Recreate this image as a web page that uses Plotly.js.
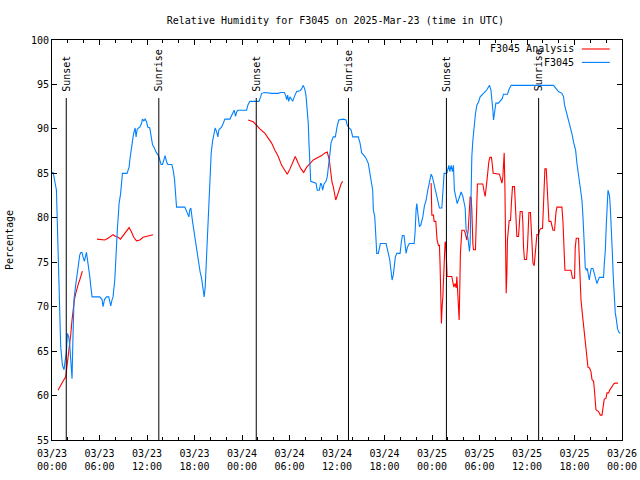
<!DOCTYPE html>
<html>
<head>
<meta charset="utf-8">
<script src="https://cdn.plot.ly/plotly-3.0.1.min.js"></script>
<style>html,body{margin:0;padding:0;background:#fff}#chart{width:640px;height:480px}</style>
</head>
<body>
<div id="chart"></div>
<script>
// ---- Data (hours after 2025-03-23 00:00 UTC, relative humidity %) ----
var observedHours = [0,0.15,0.56,0.68,0.85,0.97,1.10,1.32,1.52,1.64,1.82,1.95,2.11,2.24,2.36,2.53,2.66,2.78,2.96,3.09,3.21,3.38,3.50,3.63,3.79,3.92,4.10,4.22,4.35,4.48,4.64,4.77,4.89,5.06,5.82,6.03,6.32,6.45,6.63,6.88,7.17,7.42,7.59,7.71,7.80,7.93,8.05,8.14,8.27,8.40,8.47,8.65,8.78,8.90,9.48,9.74,9.83,9.95,10.08,10.24,10.37,10.50,10.62,10.75,10.93,11.09,11.30,11.43,11.60,11.76,11.94,12.10,12.35,12.52,12.70,12.86,13.02,13.20,13.45,13.62,13.78,13.96,14.12,14.29,14.47,14.63,15.14,15.30,15.48,15.64,15.73,16.78,16.99,17.29,17.41,17.54,17.75,17.96,18.17,18.39,18.55,18.71,18.89,19.09,19.22,19.35,19.47,19.60,19.73,19.85,19.94,20.11,20.28,20.45,20.61,20.79,20.95,21.08,21.24,21.42,21.62,21.84,22.47,22.69,22.89,23.01,23.19,23.32,23.48,24.58,24.75,25.00,25.63,26.14,26.35,26.48,26.90,27.74,28.58,28.88,29.34,29.51,29.64,29.77,29.89,30.06,30.27,30.40,30.60,30.90,31.32,31.53,31.74,31.92,32.08,32.25,32.37,32.46,32.55,32.68,33.35,33.51,33.76,33.94,34.07,34.19,34.36,34.61,34.77,34.95,35.12,35.24,35.37,35.53,35.79,35.91,36.04,36.22,36.80,37.14,37.30,37.52,37.77,37.99,38.69,38.91,39.12,39.42,39.67,39.96,40.26,40.51,40.59,40.77,40.84,40.93,41.02,41.22,41.35,41.48,42.20,42.36,42.54,42.66,42.79,42.96,43.12,43.25,43.37,43.55,43.97,44.13,44.26,44.47,44.60,44.73,44.89,45.14,45.74,45.86,45.99,46.08,46.20,46.41,46.59,46.84,47.04,47.26,47.47,47.67,47.89,48.05,48.27,48.48,48.68,48.81,48.94,49.24,49.37,49.53,49.87,50.00,50.13,50.25,50.42,50.58,50.71,50.83,51.01,51.18,51.34,51.52,51.68,51.90,52.02,52.19,52.31,52.44,52.57,52.69,52.73,52.82,52.91,53.03,53.16,53.33,53.49,53.67,53.87,54.08,54.34,54.50,54.72,54.93,55.13,55.26,55.44,55.56,55.69,55.77,55.89,56.07,56.40,56.61,56.87,57.03,57.54,57.71,57.88,58.00,63.35,63.78,63.98,64.41,64.62,64.74,64.92,65.05,65.21,65.37,65.55,65.72,65.88,66.01,66.14,66.31,66.51,66.73,66.94,67.07,67.20,67.27,67.36,67.49,67.61,67.74,67.87,67.99,68.12,68.33,68.50,68.66,68.84,69.13,69.67,69.76,69.89,70.02,70.10,70.23,70.36,70.43,70.52,70.64,70.77,70.90,71.02,71.15,71.28,71.44,71.62,71.79];
var observedRH = [85.1,85.1,83.1,79.4,75.1,69.1,65.5,63.4,62.9,63.8,64.9,67.0,66.6,65.7,64.4,61.9,67.0,70.8,72.2,73.2,73.9,75.1,75.8,76.1,76.1,75.6,75.1,75.6,76.1,75.3,74.5,73.4,72.4,71.1,71.1,71.1,70.8,70.0,70.8,71.1,71.1,70.1,70.8,71.1,71.9,73.0,75.1,77.1,79.0,80.5,81.6,82.6,84.6,85.0,85.0,85.7,86.5,87.3,88.4,89.1,89.7,90.1,89.1,89.9,90.1,90.2,90.6,91.1,90.9,91.1,90.8,90.2,90.1,89.1,88.2,88.0,87.6,87.3,87.0,86.3,86.0,86.0,86.5,87.0,86.3,86.0,86.0,85.4,84.3,81.6,81.2,81.2,80.7,80.1,80.9,81.1,79.6,78.3,77.3,75.6,74.5,73.9,73.2,71.9,71.1,72.2,74.9,77.5,79.7,82.0,85.4,87.3,88.6,89.5,90.1,89.7,89.1,89.9,90.1,90.2,90.6,91.1,91.1,91.6,91.9,92.1,91.4,91.9,92.1,92.1,92.7,93.1,93.1,93.1,93.6,94.0,94.1,94.0,94.0,94.1,94.1,93.8,93.3,93.8,93.1,93.6,93.3,93.1,93.6,94.2,94.3,94.5,94.9,94.5,93.8,92.1,90.6,88.4,86.1,84.1,83.9,83.1,83.1,83.9,83.7,83.1,83.8,84.1,84.6,85.7,87.3,88.4,88.8,89.1,89.1,89.9,90.4,91.0,91.1,91.0,90.4,90.1,89.9,89.1,89.1,88.4,87.3,87.0,86.7,86.1,84.4,83.1,80.9,80.1,79.0,77.1,76.0,76.0,76.7,77.1,77.1,76.4,76.0,75.3,74.3,73.0,73.6,75.1,75.6,76.0,76.0,77.3,78.0,78.0,77.1,76.0,76.7,77.1,77.1,78.3,80.9,81.6,80.6,79.0,79.2,80.1,81.3,82.0,83.1,84.1,84.9,84.6,83.7,83.1,82.2,81.6,81.1,81.1,83.5,85.0,85.0,85.4,85.9,85.2,85.9,85.2,85.9,83.1,82.4,81.6,82.0,82.4,82.9,82.4,81.6,81.1,78.6,78.3,77.5,76.7,76.2,77.1,82.0,86.9,88.7,90.6,91.7,92.7,93.0,93.6,93.8,94.0,94.2,94.4,94.7,94.9,94.4,93.6,92.1,91.0,91.9,92.9,92.9,93.1,93.4,93.9,93.9,94.4,94.7,94.9,94.9,94.5,94.2,94.0,93.6,92.7,92.1,91.5,91.0,90.4,89.9,89.3,88.5,88.0,87.6,86.1,84.6,83.1,82.0,80.1,78.2,76.3,74.4,74.1,74.3,73.5,73.0,73.7,74.3,74.3,73.7,73.1,72.6,73.3,73.3,74.8,76.3,79.3,81.6,83.1,82.7,82.4,81.2,79.3,76.3,73.3,70.7,69.3,68.6,67.5,67.1,67.0];

var analysisHours1 = [0.76,1.10,1.39,1.73,1.90,2.11,2.24,2.36,2.53,2.66,2.83,3.00,3.16,3.34,3.50,3.67,3.84];
var analysisRH1 = [60.6,61.2,61.6,62.1,63.3,64.4,65.9,66.8,68.5,69.6,70.8,71.5,72.1,72.6,73.0,73.6,74.0];
var analysisHours2 = [5.69,6.25,6.66,7.08,7.38,7.71,8.05,8.35,8.65,8.98,9.41,9.74,10.04,10.33,10.67,11.09,11.51,11.94,12.35,12.77];
var analysisRH2 = [77.6,77.5,77.5,77.7,77.9,78.1,77.9,77.8,77.6,78.0,78.5,78.9,78.4,77.8,77.4,77.5,77.8,77.9,78.0,78.1];
var analysisHours3 = [24.78,25.42,25.85,26.26,26.90,27.31,27.74,28.16,28.58,29.01,29.43,29.72,30.06,30.40,30.73,31.11,31.45,31.79,32.17,32.59,33.00,33.64,34.07,34.48,34.77,35.03,35.20,35.37,35.53,35.71,35.84,36.04,36.29,36.51,36.72];
var analysisRH3 = [91.0,90.8,90.4,90.0,89.5,88.9,88.4,87.6,86.9,85.9,85.3,84.9,85.5,86.3,86.9,86.1,85.5,85.1,85.7,86.1,86.5,86.8,87.0,87.3,87.4,86.5,85.0,84.0,83.5,82.7,82.0,82.5,83.3,83.8,84.1];
var analysisHours4 = [47.89,47.98,48.18,48.27,48.48,48.52,48.64,48.81,48.94,49.02,49.11,49.19,49.28,49.37,49.49,49.57,49.66,49.75,49.82,49.91,50.50,50.63,50.76,50.92,51.05,51.14,51.21,51.34,51.43,51.52,51.59,51.77,52.06,52.19,52.40,52.57,52.69,52.82,52.95,53.03,53.16,53.24,53.49,53.58,53.67,53.74,54.42,54.59,54.72,54.93,55.01,55.18,55.31,55.51,55.60,55.73,56.52,56.70,56.83,56.95,57.03,57.12,57.21,57.28,57.37,57.46,57.53,57.75,57.92,58.04,58.17,58.42,58.51,58.60,58.72,58.93,59.01,59.14,59.39,59.48,59.56,59.68,59.94,60.06,60.19,60.24,60.44,60.53,60.66,60.75,60.91,61.04,61.16,61.25,61.46,61.58,61.76,61.96,62.05,62.18,62.26,62.43,62.52,62.64,62.77,63.02,63.15,63.28,63.48,63.57,63.66,63.78,64.41,64.54,64.70,64.79,65.55,65.68,65.75,66.01,66.09,66.22,66.51,66.60,66.73,66.82,66.98,67.14,67.32,67.45,67.57,67.70,67.90,68.08,68.21,68.41,68.50,68.59,68.71,69.04,69.26,69.47,69.60,69.76,69.98,70.10,70.31,70.43,70.74,70.94,71.15,71.49];
var analysisRH4 = [83.9,80.3,80.3,79.6,79.6,78.6,77.5,76.9,76.9,74.7,70.4,68.1,70.0,71.1,73.8,76.0,77.3,77.1,74.5,73.4,73.4,72.6,72.2,72.6,72.1,73.4,72.2,69.6,68.5,72.6,76.0,78.6,78.6,78.3,77.5,78.6,81.2,82.4,82.2,80.9,77.1,76.4,76.4,78.3,81.8,83.8,83.8,82.9,82.4,84.1,85.0,86.3,86.8,86.8,86.1,85.0,84.9,84.3,83.9,84.6,86.3,87.3,83.5,75.6,71.5,73.8,77.5,79.7,79.7,81.8,83.5,83.5,82.2,79.7,77.9,77.9,79.6,80.7,80.7,79.4,76.7,75.3,75.3,76.7,79.4,80.6,80.6,79.0,76.6,74.9,74.6,76.0,77.5,78.1,78.1,78.6,78.8,78.8,80.7,83.9,85.5,85.5,83.9,80.9,79.6,79.6,78.9,78.6,78.6,79.8,80.6,81.2,81.2,79.6,76.0,74.1,74.1,73.6,73.2,73.2,76.6,77.7,77.7,75.6,71.7,70.8,69.3,67.9,67.0,65.9,64.8,63.2,63.1,62.7,61.8,61.6,60.8,59.5,58.4,58.2,57.8,57.8,58.7,59.6,59.7,60.3,60.3,60.6,61.0,61.3,61.4,61.4];

var sunsetHours = [1.80, 25.80, 49.82];
var sunriseHours = [13.49, 37.45, 61.47];

var seriesNames = ["F3045 Analysis", "F3045"];
var seriesColors = ["#ff0000", "#0080ff"];
var chartTitle = "Relative Humidity for F3045 on 2025-Mar-23 (time in UTC)";

// ---- helpers ----
var BASE = Date.UTC(2025, 2, 23, 0, 0, 0);
function toDate(h) {
  return new Date(BASE + Math.round(h * 3600000)).toISOString().slice(0, 19).replace('T', ' ');
}
// join analysis segments with gaps (null breaks the line)
var aSegs = [[analysisHours1, analysisRH1], [analysisHours2, analysisRH2], [analysisHours3, analysisRH3], [analysisHours4, analysisRH4]];
var ax = [], ay = [];
aSegs.forEach(function (s, i) {
  if (i > 0) { ax.push(toDate(s[0][0] - 0.01)); ay.push(null); }
  s[0].forEach(function (h, j) { ax.push(toDate(h)); ay.push(s[1][j]); });
});

var FONT = "DejaVu Sans Mono, monospace";

var traces = [
  {x: ax, y: ay, type: 'scatter', mode: 'lines', name: seriesNames[0], connectgaps: false,
   line: {color: seriesColors[0], width: 1.1}, showlegend: false},
  {x: observedHours.map(toDate), y: observedRH, type: 'scatter', mode: 'lines', name: seriesNames[1],
   line: {color: seriesColors[1], width: 1.1}, showlegend: false}
];

var shapes = [], annotations = [];
function addEvent(h, label) {
  shapes.push({type: 'line', xref: 'x', yref: 'paper', x0: toDate(h), x1: toDate(h), y0: 0, y1: 0.855,
               line: {color: '#000', width: 1}});
  annotations.push({xref: 'x', yref: 'paper', x: toDate(h), y: 0.866, text: label, textangle: -90,
                    showarrow: false, xanchor: 'center', yanchor: 'bottom', font: {family: FONT, size: 10, color: '#000'}});
}
sunsetHours.forEach(function (h) { addEvent(h, 'Sunset'); });
sunriseHours.forEach(function (h) { addEvent(h, 'Sunrise'); });

// legend (text left of line sample, as in the reference)
var legY = [0.9775, 0.944];
seriesNames.forEach(function (n, i) {
  annotations.push({xref: 'paper', yref: 'paper', x: 0.919, y: legY[i], text: n, showarrow: false,
                    xanchor: 'right', yanchor: 'middle', font: {family: FONT, size: 10, color: '#000'}});
  shapes.push({type: 'line', xref: 'paper', yref: 'paper', x0: 0.9295, x1: 0.9785, y0: legY[i], y1: legY[i],
               line: {color: seriesColors[i], width: 1.1}});
});

var layout = {
  width: 640, height: 480,
  margin: {l: 52, r: 18, t: 40, b: 40, pad: 0},
  paper_bgcolor: '#fff', plot_bgcolor: '#fff',
  font: {family: FONT, size: 10, color: '#000'},
  title: {text: chartTitle, x: 0.524, xanchor: 'center', y: 0.958, yanchor: 'middle', yref: 'container',
          font: {family: FONT, size: 10, color: '#000'}},
  xaxis: {
    type: 'date', range: [toDate(0), toDate(72)],
    tickformat: '%m/%d<br>%H:%M', dtick: 21600000, tick0: toDate(0),
    ticks: 'inside', ticklen: 5, tickcolor: '#000', tickwidth: 1,
    ticklabelstandoff: 4,
    showline: true, linecolor: '#000', linewidth: 1, mirror: 'ticks',
    showgrid: false, zeroline: false,
    minor: {dtick: 7200000, ticks: 'inside', ticklen: 3, tickcolor: '#000', showgrid: false},
    tickfont: {family: FONT, size: 10, color: '#000'}
  },
  yaxis: {
    range: [55, 100], dtick: 5, tick0: 55,
    ticks: 'inside', ticklen: 5, tickcolor: '#000', tickwidth: 1,
    showline: true, linecolor: '#000', linewidth: 1, mirror: 'ticks',
    showgrid: false, zeroline: false,
    title: {text: 'Percentage', standoff: 15, font: {family: FONT, size: 10, color: '#000'}},
    tickfont: {family: FONT, size: 10, color: '#000'}
  },
  shapes: shapes,
  annotations: annotations,
  showlegend: false
};

Plotly.newPlot('chart', traces, layout, {staticPlot: true});
</script>
</body>
</html>
